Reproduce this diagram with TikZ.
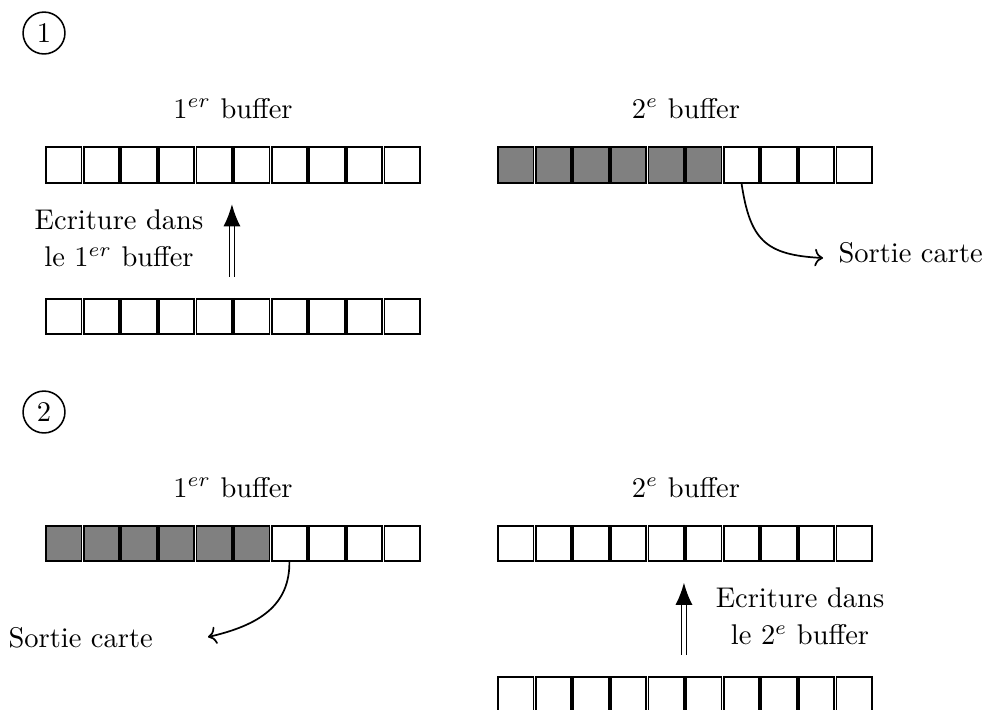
\documentclass[tikz,border=0pt]{standalone}
\usetikzlibrary{arrows.meta}
\newcommand\bufrow[4]{%
  \foreach \i in {1,...,10} {
    \ifnum\i>#4\relax
      \node[cell] (#1-\i) at ({#2+18.8+(\i-1)*37.6},#3) {};
    \else
      \node[fullcell] (#1-\i) at ({#2+18.8+(\i-1)*37.6},#3) {};
    \fi
  }}
\begin{document}
\begin{tikzpicture}[x=0.351pt,y=-0.351pt,
  cell/.style={draw, line width=0.65pt, minimum width=12.46pt, minimum height=12.4pt, inner sep=0pt, outer sep=0pt},
  fullcell/.style={cell, fill=gray},
  stepnum/.style={draw, circle, line width=0.55pt, minimum size=14.7pt, inner sep=0pt},
  writearrow/.style={double, line width=0.65pt, double distance=1.1pt, -{Latex[length=7.8pt,width=6pt]}, shorten <=7.7pt, shorten >=7.5pt},
  outarrow/.style={->, line width=0.6pt}]
\useasboundingbox (0,0) rectangle (988,709);

% ---------- Step 1 ----------
\node[stepnum] (n1) at (44,33) {1};
\node[anchor=base] (t1a) at (233,118) {$1^{er}$ buffer};
\node[anchor=base] (t1b) at (686,118) {$2^{e}$ buffer};
\bufrow{A}{45}{165}{0}
\bufrow{B}{497}{165}{6}
\bufrow{C}{45}{316.5}{0}
\draw[writearrow] (C-5.north east) -- (A-5.south east);
\node[align=center] (w1) at (119,238.6) {Ecriture dans\\[1pt] le $1^{er}$ buffer};
\node[anchor=base west, inner sep=0pt] (o1) at (838,262) {Sortie carte};
\coordinate (o1end) at (823,258);
\draw[outarrow] (B-7.south) .. controls (750,240) and (765,255) .. (o1end);

% ---------- Step 2 ----------
\node[stepnum] (n2) at (44,412) {2};
\node[anchor=base] (t2a) at (233,497) {$1^{er}$ buffer};
\node[anchor=base] (t2b) at (686,497) {$2^{e}$ buffer};
\bufrow{D}{45}{543.5}{6}
\bufrow{E}{497}{543.5}{0}
\bufrow{F}{497}{694.5}{0}
\draw[writearrow] (F-5.north east) -- (E-5.south east);
\node[align=center] (w2) at (800,616.6) {Ecriture dans\\[1pt] le $2^{e}$ buffer};
\node[anchor=base west, inner sep=0pt] (o2) at (8,647) {Sortie carte};
\coordinate (o2end) at (208,637);
\draw[outarrow] (D-7.south) .. controls (290,605) and (260,625) .. (o2end);
\end{tikzpicture}
\end{document}
